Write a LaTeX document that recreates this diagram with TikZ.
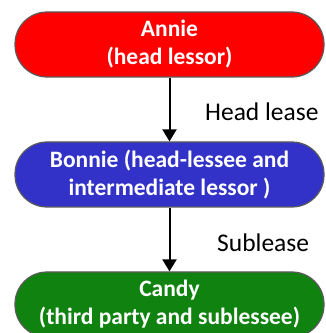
\documentclass[tikz,border=0pt]{standalone}
\usepackage{fontspec}
\setmainfont{Carlito}
\usetikzlibrary{arrows.meta,positioning}

\definecolor{annie}{RGB}{255,0,0}
\definecolor{bonnie}{RGB}{50,50,200}
\definecolor{candy}{RGB}{16,130,16}
\definecolor{rim}{RGB}{90,90,90}

\begin{document}
\begin{tikzpicture}
  [x=1pt,y=1pt,
   party/.style={rectangle,rounded corners=32pt,draw=rim,line width=1.2pt,
     minimum width=309pt,minimum height=65pt,align=center,text=white,
     inner xsep=0pt,font=\fontsize{23.5}{28}\selectfont\bfseries},
   lease/.style={line width=2pt,-{Triangle[width=14pt,length=12pt]}},
   tag/.style={anchor=west,inner sep=0pt,font=\fontsize{25.5}{30}\selectfont}]
  \useasboundingbox (0,0) rectangle (325,333);
  \node[party,fill=annie] (annie) at (169.5,288.5) {Annie\\(head lessor)};
  \node[party,fill=bonnie] (bonnie) at (169.5,158.5) {Bonnie (head-lessee and\\intermediate lessor )};
  \node[party,fill=candy] (candy) at (169.5,28.5) {Candy\\(third party and sublessee)};

  \foreach \from/\to in {annie/bonnie,bonnie/candy}
    \draw[lease] (\from) -- (\to);

  \node[tag] (headlease) at (205,221.5) {Head lease};
  \node[tag] (sublease) at (217,90) {Sublease};
\end{tikzpicture}
\end{document}
